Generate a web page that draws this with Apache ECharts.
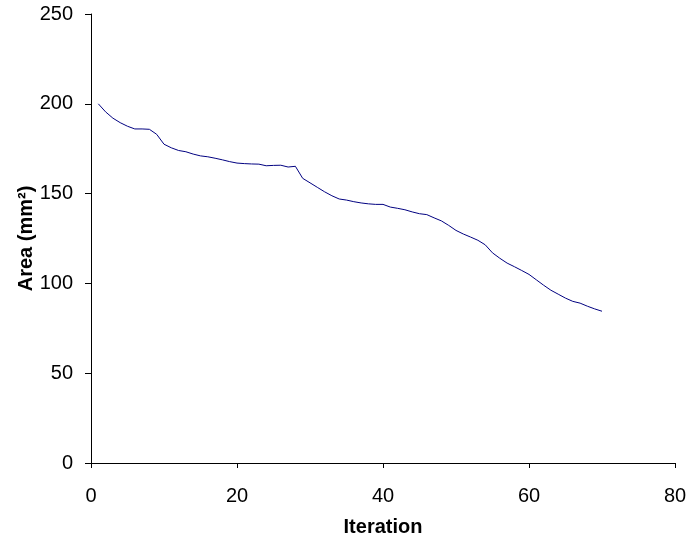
<!DOCTYPE html>
<html style="height: 100%">

<head>
    <meta charset="utf-8">
</head>

<body style="height: 100%; margin: 0; background: #fff">
    <div id="container" style="width: 686px; height: 537px"></div>
    <script src="https://cdn.jsdelivr.net/npm/echarts@6/dist/echarts.min.js"></script>
    <script type="text/javascript">
        // area per iteration
        var iterations = [];
        for (var i = 1; i <= 70; i++) iterations.push(i);
        var area = [
            200, 195.5, 192, 189.5, 187.5, 186, 186, 185.8, 183, 177.5,
            175.5, 174, 173.3, 172, 171, 170.5, 169.7, 168.8, 167.8, 167,
            166.7, 166.5, 166.4, 165.5, 165.7, 165.8, 164.8, 165.2, 158.5, 156,
            153.5, 151, 148.8, 147, 146.4, 145.5, 144.8, 144.3, 144, 144,
            142.5, 141.8, 141, 139.8, 138.8, 138.3, 136.5, 134.8, 132.3, 129.5,
            127.5, 125.8, 124, 121.5, 117, 114, 111.3, 109.3, 107.2, 105,
            102, 99, 96.2, 94, 91.8, 90, 89, 87.3, 85.8, 84.5
        ];

        var points = iterations.map(function(x, k) {
            return [x, area[k]];
        });

        var dom = document.getElementById("container");
        var myChart = echarts.init(dom);
        var font = 'Liberation Sans, Arial, sans-serif';

        var option = {
            animation: false,
            grid: {
                left: 91,
                right: 11,
                top: 14,
                bottom: 74,
                outerBoundsMode: 'none'
            },
            xAxis: {
                type: 'value',
                min: 0,
                max: 80,
                interval: 20,
                name: 'Iteration',
                nameLocation: 'middle',
                nameGap: 54,
                nameMoveOverlap: false,
                nameTextStyle: {
                    color: '#000',
                    fontFamily: font,
                    fontSize: 20,
                    fontWeight: 'bold'
                },
                axisLine: { onZero: false, lineStyle: { color: '#000', width: 1 } },
                axisTick: { show: true, length: 5, lineStyle: { color: '#000' } },
                axisLabel: { color: '#000', fontFamily: font, fontSize: 20, margin: 23 },
                splitLine: { show: false }
            },
            yAxis: {
                type: 'value',
                min: 0,
                max: 250,
                interval: 50,
                name: 'Area (mm²)',
                nameLocation: 'middle',
                nameGap: 55,
                nameMoveOverlap: false,
                nameTextStyle: {
                    color: '#000',
                    fontFamily: font,
                    fontSize: 20,
                    fontWeight: 'bold'
                },
                axisLine: { show: true, lineStyle: { color: '#000', width: 1 } },
                axisTick: { show: true, length: 6, lineStyle: { color: '#000' } },
                axisLabel: { color: '#000', fontFamily: font, fontSize: 20, margin: 18 },
                splitLine: { show: false }
            },
            series: [{
                type: 'line',
                data: points,
                showSymbol: false,
                smooth: false,
                lineStyle: { color: '#000080', width: 1 }
            }]
        };

        myChart.setOption(option);
    </script>
</body>

</html>
